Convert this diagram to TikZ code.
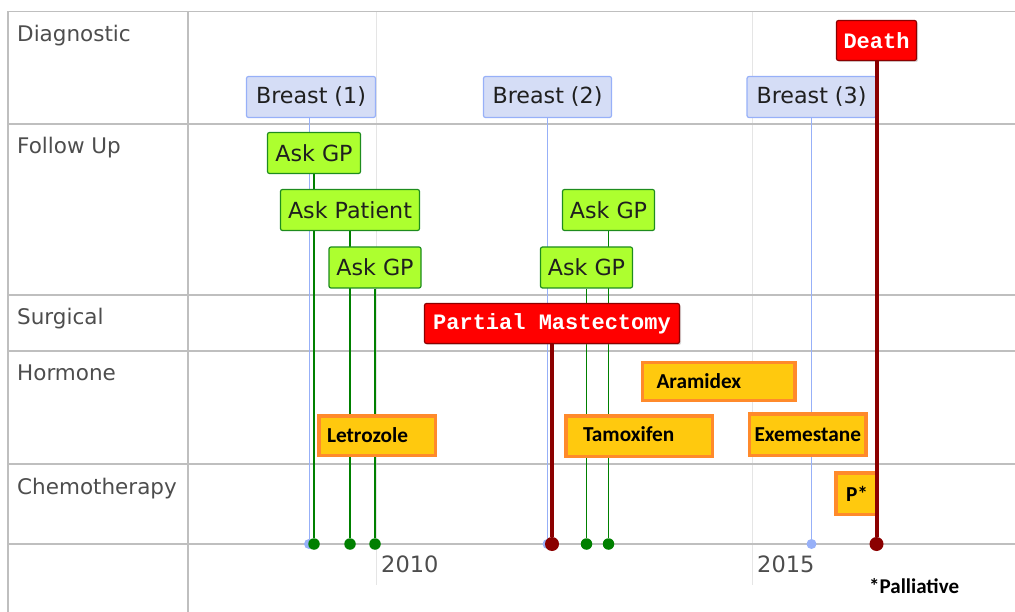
\documentclass[tikz,border=0pt]{standalone}
\usepackage{fontspec}
\setmainfont{DejaVu Sans}
\newfontfamily\drugfont{Carlito}
\newfontfamily\eventmono{Liberation Mono}
\usetikzlibrary{shadows}
\pgfdeclarelayer{gridlayer}
\pgfdeclarelayer{stemlayer}
\pgfdeclarelayer{frontlayer}
\pgfsetlayers{gridlayer,stemlayer,main,frontlayer}

\definecolor{gridmajor}{HTML}{BFBFBF}
\definecolor{gridminor}{HTML}{E5E5E5}
\definecolor{labelgray}{HTML}{4D4D4D}
\definecolor{diagfill}{HTML}{D5DDF6}
\definecolor{diagline}{HTML}{97B0F8}
\definecolor{followfill}{HTML}{ADFF2F}
\definecolor{followline}{HTML}{1E8C1E}
\definecolor{stemgreen}{HTML}{008000}
\definecolor{surgfill}{HTML}{FF0000}
\definecolor{surgline}{HTML}{8B0000}
\definecolor{drugfill}{HTML}{FFC90E}
\definecolor{drugline}{HTML}{FF8A2B}

\tikzset{
  majorgrid/.style={draw=gridmajor, line width=1.3pt},
  minorgrid/.style={draw=gridminor, line width=1pt},
  rowlabel/.style={anchor=base west, text=labelgray, inner sep=0pt,
    font=\fontsize{21.5}{24}\selectfont},
  yearlabel/.style={anchor=base west, text=labelgray, inner sep=0pt,
    font=\fontsize{22.5}{24}\selectfont},
  diagbox/.style={draw=diagline, fill=diagfill, line width=1.2pt,
    rounded corners=2pt, minimum height=41pt, inner sep=0pt, text=black!88,
    font=\fontsize{22.2}{24}\selectfont},
  followbox/.style={diagbox, draw=followline, fill=followfill},
  eventbox/.style={draw=surgline, fill=surgfill, line width=1.2pt,
    rounded corners=2pt, minimum height=40pt, inner sep=0pt, text=white,
    font=\eventmono\bfseries\fontsize{22}{24}\selectfont,
    drop shadow={shadow xshift=1.5pt, shadow yshift=-1.5pt, opacity=0.3}},
  drugbox/.style={draw=drugline, fill=drugfill, line width=3.5pt,
    inner ysep=0pt, align=left, text=black,
    font=\drugfont\bfseries\fontsize{21.3}{24}\selectfont},
  diagstem/.style={draw=diagline, line width=1pt},
  followstem/.style={draw=stemgreen, line width=1.5pt},
  fatalstem/.style={draw=surgline, line width=4pt},
  diagdot/.style={circle, fill=diagline, inner sep=0pt, minimum size=10pt},
  followdot/.style={circle, fill=stemgreen, inner sep=0pt, minimum size=11.5pt},
  fataldot/.style={circle, fill=surgline, inner sep=0pt, minimum size=14pt},
}

\begin{document}
\begin{tikzpicture}[x=1pt, y=-1pt]
\useasboundingbox (0,0) rectangle (1015,612);

% ---- table grid ----
\begin{pgfonlayer}{gridlayer}
  \foreach \gx in {376.5, 752} \draw[minorgrid] (\gx,11.5) -- (\gx,585);
  \foreach \gy in {11.5, 124, 295, 351, 464, 544} \draw[majorgrid] (8,\gy) -- (1015,\gy);
  \foreach \gx in {8, 188} \draw[majorgrid] (\gx,11.5) -- (\gx,612);
\end{pgfonlayer}

% ---- row headings ----
\node[rowlabel] (rdiag)  at (17,42)  {Diagnostic};
\node[rowlabel] (rfollow) at (17,154) {Follow Up};
\node[rowlabel] (rsurg)  at (17,325) {Surgical};
\node[rowlabel] (rhorm)  at (17,381) {Hormone};
\node[rowlabel] (rchemo) at (17,494) {Chemotherapy};

% ---- axis years ----
\node[yearlabel] (y2010) at (381,572) {2010};
\node[yearlabel] (y2015) at (757,572) {2015};

% ---- diagnostic events ----
\node[diagbox, minimum width=129pt] (br1) at (311,97)   {Breast (1)};
\node[diagbox, minimum width=128pt] (br2) at (547.5,97) {Breast (2)};
\node[diagbox, minimum width=129pt] (br3) at (811.5,97) {Breast (3)};

% ---- follow up events ----
\node[followbox, minimum width=93pt]  (gp1) at (314,153)    {Ask GP};
\node[followbox, minimum width=139pt] (pat) at (350,210)    {Ask Patient};
\node[followbox, minimum width=92pt]  (gp2) at (375,267.5)  {Ask GP};
\node[followbox, minimum width=92pt]  (gp3) at (608.5,210)  {Ask GP};
\node[followbox, minimum width=92pt]  (gp4) at (586.5,267.5) {Ask GP};

% ---- surgery and death ----
\node[eventbox, minimum width=255pt] (mast)  at (552,323.5) {Partial Mastectomy};
\node[eventbox, minimum width=80pt]  (death) at (876.5,40.5) {Death};

% ---- drug periods ----
\node[drugbox, text width=100pt, inner xsep=8.25pt,  minimum height=39.5pt] (letro) at (377,435.5)   {Letrozole};
\node[drugbox, text width=112pt, inner xsep=17.25pt, minimum height=40.5pt] (tamox) at (639,436)     {\raisebox{3.5pt}{Tamoxifen}};
\node[drugbox, text width=124pt, inner xsep=14.25pt, minimum height=37.5pt] (arimi) at (718.5,381.5) {Aramidex};
\node[drugbox, text width=106pt, inner xsep=5.25pt,  minimum height=41.5pt] (exeme) at (807.5,434.5) {Exemestane};
\node[drugbox, text width=20pt,  inner xsep=10.25pt, minimum height=41.5pt] (palli) at (856,493.5)   {P*};

% ---- time markers on the axis ----
\node[diagdot]   (dbr1) at (309,544) {};
\node[diagdot]   (dbr2) at (547.5,544) {};
\node[diagdot]   (dbr3) at (811.5,544) {};
\node[followdot] (dgp1) at (314,544) {};
\node[followdot] (dpat) at (350,544) {};
\node[followdot] (dgp2) at (375,544) {};
\node[followdot] (dgp3) at (608.5,544) {};
\node[followdot] (dgp4) at (586.5,544) {};

% ---- stems behind the boxes ----
\begin{pgfonlayer}{stemlayer}
  \draw[diagstem] (br1.south -| dbr1) -- (dbr1);
  \draw[diagstem] (br2.south) -- (dbr2);
  \draw[diagstem] (br3.south) -- (dbr3);
  \draw[followstem] (gp1.south) -- (dgp1);
  \draw[followstem] (pat.south) -- (dpat);
  \draw[followstem] (gp2.south) -- (dgp2);
  \draw[followstem] (gp3.south) -- (dgp3);
  \draw[followstem] (gp4.south) -- (dgp4);
\end{pgfonlayer}

% ---- heavy stems for surgery and death ----
\begin{pgfonlayer}{frontlayer}
  \node[fataldot] (dmast)  at (552,544) {};
  \node[fataldot] (ddeath) at (876.5,544) {};
  \draw[fatalstem] (mast.south) -- (dmast);
  \draw[fatalstem] (death.south) -- (ddeath);
\end{pgfonlayer}

% ---- footnote ----
\node[anchor=base west, inner sep=0pt, font=\drugfont\bfseries\fontsize{21}{24}\selectfont]
  (note) at (869,593) {*Palliative};
\end{tikzpicture}
\end{document}
